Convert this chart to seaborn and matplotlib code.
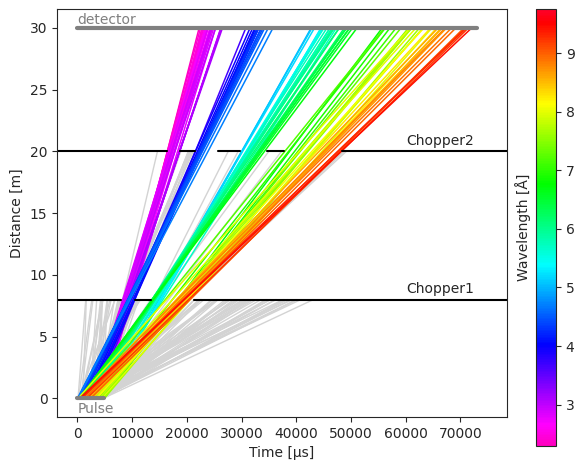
import numpy as np
import pandas as pd
import matplotlib
matplotlib.use("Agg")
import matplotlib.pyplot as plt
import seaborn as sns

# neutron birth times [µs] and wavelengths [Å]
birth_times = [4800,4300,4550,3900,4100,3600,4400,3000,3800,2600,3300,4700,2900,3500,4950,4650,4200,3750,3100,2500,4600,4000,3400,4450,2800,
               3200,3000,2900,2700,3600,3400,
               2200,1800,2500,1200,2900,900,1600,2100,700,1400,2600,1000,500,300,3100,3300,2400,1900,800,600,
               2600,2300,200,100,0,2800,1700,1300,
               4600,4800,4200,3900,4500,3700,3000,2600,4100,2200,1800,1500,1100,900,1300,700,500,1600,2900,3200,4700,2000,1200,800,4400,
               4300,3500,3300,2400,2000,1400,1000,600,300,1700,
               3800,4200,2600,3300,1900,4600,2200,1500,900,3000,600,300,100,4900,1200,2800,500,1700,200,4000,3500,700,2400,1000,
               4400,3100,4500,2000,1800,1300,800,400,
               1000,3000,200,4500,2500,600,4000,1500,3500,4000,100,1500,2000,4500,300,3800,1200,2600,4900,700,3300,1800,4100,500,2900,4400,900,3600,2000,200,4700,
               2200,4200,3300,200,4800,200,4800,4700,1300,3900,2500,100,4300,3200,4500,3900,4900,200,4900,100,4400,2700,600,
               4100,2300,3700,600,1900,4300,800,3100,1400,2600,3900,900,4600,1700,300,3500,2100,4000,1100,4700,2400,600,3300,1500,4200,2800,500,3600,100,2900]
wavelengths = [2.3,2.4,2.45,2.5,2.55,2.6,2.65,2.7,2.75,2.8,2.85,2.9,2.95,3.0,2.35,2.5,2.6,2.7,2.8,2.9,2.42,2.58,2.66,2.74,2.88,
               3.05,3.1,3.15,3.2,2.98,3.02,
               3.6,3.7,3.75,3.8,3.85,3.9,3.95,4.0,4.05,4.1,4.15,4.2,4.3,4.4,3.65,3.82,3.98,4.12,4.25,4.35,
               3.5,3.55,4.45,4.5,4.6,3.58,4.0,4.2,
               4.9,5.0,5.1,5.2,5.3,5.4,5.5,5.6,5.7,5.8,5.9,6.0,6.1,6.2,6.3,6.4,6.5,6.6,6.8,7.0,5.25,5.75,6.15,6.45,7.1,
               5.35,5.45,5.65,5.85,6.05,6.25,6.35,6.55,6.7,5.95,
               7.3,7.5,7.7,7.9,8.1,8.3,8.5,8.7,8.9,9.1,9.3,9.5,9.7,7.6,8.0,8.4,8.8,9.2,9.6,7.8,8.2,8.6,9.0,9.4,
               7.4,7.65,7.95,8.25,8.55,8.95,9.25,9.45,
               0.3,0.8,1.2,1.5,1.8,2.0,2.1,3.2,3.4,4.6,4.7,7.2,10.0,10.5,11,11.5,12,12.5,13,13.5,14,14.5,15,15.5,16,16.5,17,17.5,18,18.5,19,
               1.0,1.6,2.2,3.3,4.5,5.2,6.9,9.9,10.8,12.2,13.8,15.2,16.8,18.2,0.5,1.4,3.1,5.6,6.7,8.0,9.0,11.2,14.2,
               0.2,0.6,0.9,1.1,1.3,1.7,1.9,2.15,2.25,9.8,10.2,10.7,11.3,11.8,12.4,12.9,13.3,13.9,14.4,14.8,15.4,15.9,16.3,17.2,17.8,18.8,19.2,0.4,0.7,1.25]

wavelength_range = [2.3, 9.75]
chopper_names = ["Chopper1", "Chopper2"]
chopper_distances = [8.0, 20.0]
chopper_openings = [[(8000, 10500), (13500, 21300)],
                    [(16300, 18700), (21500, 25600), (29700, 34600), (37800, 48300)]]
detector_distance = 30.0
pulse_window = (0, 4800)

sns.set_style("ticks")
fig = plt.figure(figsize=(5.84, 4.7), dpi=100)
ax = fig.add_axes([0.098, 0.113, 0.77, 0.867])
cax = fig.add_axes([0.918, 0.052, 0.034, 0.928])

rows_grey, rows_col = [], []
for i, (t0, lam) in enumerate(zip(birth_times, wavelengths)):
    slope = 252.78 * lam  # µs per m
    end_d = detector_distance
    for d, ops in zip(chopper_distances, chopper_openings):
        t = t0 + slope * d
        if not any(a <= t <= b for a, b in ops):
            end_d = d
            break
    rec = [(i, t0, 0.0, lam), (i, t0 + slope * end_d, end_d, lam)]
    (rows_col if end_d == detector_distance else rows_grey).extend(rec)

dg = pd.DataFrame(rows_grey, columns=["id", "t", "d", "lam"])
dc = pd.DataFrame(rows_col, columns=["id", "t", "d", "lam"])
cmap = plt.get_cmap("gist_rainbow_r")
norm = matplotlib.colors.Normalize(*wavelength_range)

sns.lineplot(data=dg, x="t", y="d", units="id", estimator=None, color="lightgray", lw=1, ax=ax, sort=False)
sns.lineplot(data=dc, x="t", y="d", units="id", estimator=None, hue="lam", palette=cmap, hue_norm=norm,
             lw=1.1, ax=ax, legend=False, sort=False)

xl = (-3700, 78500)
for name, d, ops in zip(chopper_names, chopper_distances, chopper_openings):
    edges = [-1e6] + [v for o in ops for v in o] + [1e6]
    for a, b in zip(edges[0::2], edges[1::2]):
        ax.plot([a, b], [d, d], color="black", lw=1.5)
    ax.text(72500, d + 0.3, name, ha="right", va="bottom", fontsize=10)

ax.plot([0, 73000], [detector_distance] * 2, color="gray", lw=3)
ax.text(0, detector_distance + 0.1, "detector", color="gray", va="bottom", fontsize=10)
ax.plot(pulse_window, [0, 0], color="gray", lw=3)
ax.text(0, -0.3, "Pulse", color="gray", va="top", fontsize=10)

ax.set_xlim(xl)
ax.set_ylim(-1.5, 31.5)
ax.set_xlabel("Time [µs]")
ax.set_ylabel("Distance [m]")
sm = matplotlib.cm.ScalarMappable(norm=norm, cmap=cmap)
cb = fig.colorbar(sm, cax=cax)
cb.set_label("Wavelength [Å]")
cax.yaxis.set_label_position("left")
fig.savefig("out.png", dpi=100)
